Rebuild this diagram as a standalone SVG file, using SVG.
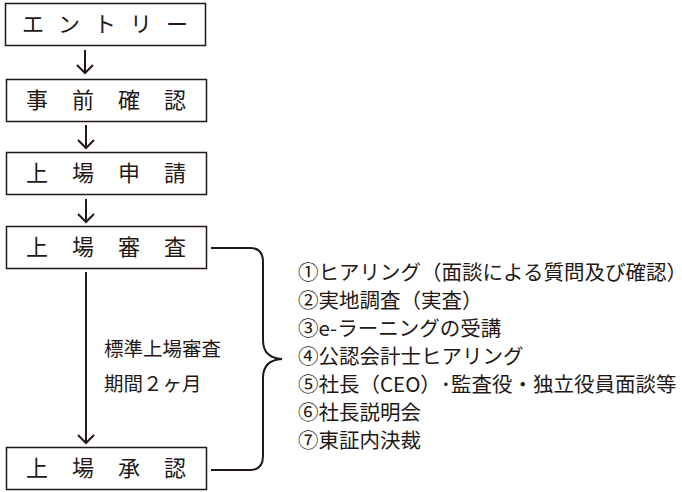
<svg xmlns="http://www.w3.org/2000/svg" width="682" height="492" viewBox="0 0 682 492">
<style>
.box{fill:#fff;stroke:#231815;stroke-width:1.5}
.bt{font-family:"Noto Sans CJK JP",sans-serif;font-size:22px;fill:#231815;text-anchor:middle}
.t{font-family:"Noto Sans CJK JP",sans-serif;font-size:19.5px;fill:#231815}
.l{font-family:"Noto Sans CJK JP",sans-serif;font-size:20.5px;fill:#231815}
.c{fill:none;stroke:#231815;stroke-width:2}
</style>
<rect width="682" height="492" fill="#fff"/>
<g id="n1"><rect class="box" x="5.5" y="3.5" width="200" height="42"/><text class="bt" x="112" y="32" letter-spacing="14">エントリー</text></g>
<g id="n2"><rect class="box" x="6.5" y="79.5" width="200" height="42"/><text class="bt" x="118" y="108" letter-spacing="24">事前確認</text></g>
<g id="n3"><rect class="box" x="6.5" y="152.5" width="200" height="42"/><text class="bt" x="118" y="181" letter-spacing="24">上場申請</text></g>
<g id="n4"><rect class="box" x="6.5" y="226.5" width="200" height="42"/><text class="bt" x="118" y="255" letter-spacing="24">上場審査</text></g>
<g id="n5"><rect class="box" x="6.5" y="447.5" width="200" height="42"/><text class="bt" x="118" y="476" letter-spacing="24">上場承認</text></g>
<g id="connectors">
<path class="c" d="M85 50V73M77 65L85 73L93 65"/>
<path class="c" d="M86 125V148M78 140L86 148L94 140"/>
<path class="c" d="M86 199V222M78 214L86 222L94 214"/>
<path class="c" d="M86 272V443M78 435L86 443L94 435"/>
<path class="c" d="M211 248H250Q263 248 263 262V340Q263 358 282 359Q263 360 263 378V456Q263 470 250 470H211"/>
</g>
<g id="label"><text class="t" x="104" y="356">標準上場審査</text><text class="t" x="104" y="391">期間２ヶ月</text></g>
<g id="list">
<text class="l" x="298" y="280">①ヒアリング（面談による質問及び確認）</text>
<text class="l" x="298" y="308">②実地調査（実査）</text>
<text class="l" x="298" y="336">③e-ラーニングの受講</text>
<text class="l" x="298" y="364">④公認会計士ヒアリング</text>
<text class="l" x="298" y="392">⑤社長（CEO）･監査役・独立役員面談等</text>
<text class="l" x="298" y="420">⑥社長説明会</text>
<text class="l" x="298" y="448">⑦東証内決裁</text>
</g>
</svg>
